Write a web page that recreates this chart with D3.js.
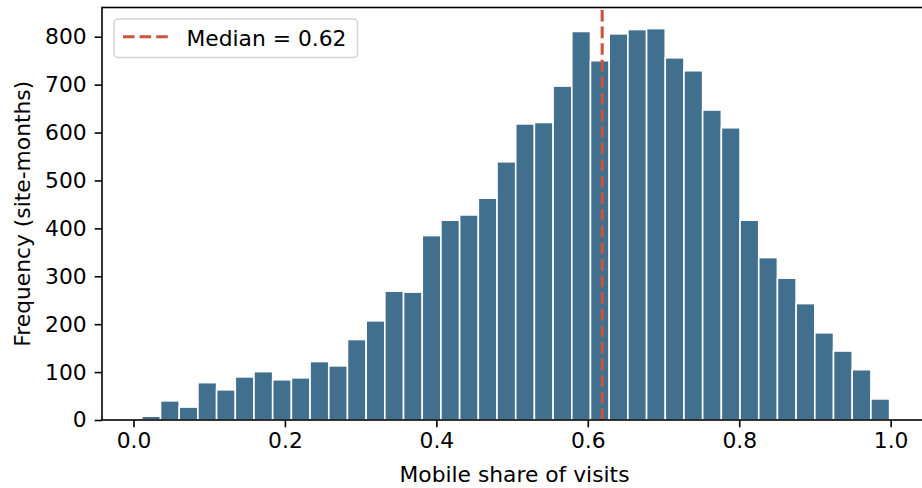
<!DOCTYPE html>
<html>
<head>
<meta charset="utf-8">
<script src="https://cdn.jsdelivr.net/npm/d3@7"></script>
<style>
    body { margin: 0; background: #fff; }
    svg { display: block; font-family: "DejaVu Sans", sans-serif; }
</style>
</head>
<body>
<svg></svg>
<script>
// histogram counts, 40 equal bins between binLo and binHi
const binLo = 0.011;
const binHi = 0.9986;
const counts = [8, 40, 27, 78, 63, 90, 101, 84, 88, 122,
    113, 168, 207, 269, 267, 385, 417, 428, 463, 539,
    618, 621, 697, 811, 750, 806, 815, 817, 756, 729,
    647, 610, 417, 339, 296, 243, 182, 144, 105, 44];
const median = 0.619;
const medianLabel = 'Median = 0.62';
const xTicks = [0, 0.2, 0.4, 0.6, 0.8, 1.0];
const yTicks = [0, 100, 200, 300, 400, 500, 600, 700, 800];
const xLabel = 'Mobile share of visits';
const yLabel = 'Frequency (site-months)';

const size = {w: 922, h: 488};
const plot = {l: 102, r: 927, t: 7.5, b: 420};
const fontSize = 21.8;
const barColor = '#41708f';
const lineColor = '#c8553d';

const svg = d3.select('svg')
    .attr('width', size.w)
    .attr('height', size.h);

const x = d3.scaleLinear().domain([-0.0416, 1.048]).range([plot.l, plot.r]);
const y = d3.scaleLinear().domain([0, 861]).range([plot.b, plot.t]);

const binW = (binHi - binLo) / counts.length;
const bins = counts.map((c, i) => ({x0: binLo + i * binW, x1: binLo + (i + 1) * binW, n: c}));

//bars
svg.append('g')
    .selectAll('rect')
    .data(bins)
    .enter()
    .append('rect')
    .attr('x', d => x(d.x0))
    .attr('y', d => y(d.n))
    .attr('width', d => x(d.x1) - x(d.x0))
    .attr('height', d => y(0) - y(d.n))
    .attr('fill', barColor)
    .attr('stroke', '#fff')
    .attr('stroke-width', 1.6);

//median line, dashes start at the bottom
svg.append('line')
    .attr('x1', x(median)).attr('x2', x(median))
    .attr('y1', plot.b).attr('y2', plot.t)
    .attr('stroke', lineColor)
    .attr('stroke-width', 3.1)
    .attr('stroke-dasharray', '11.6,5');

//axes
const xAxis = svg.append('g')
    .attr('transform', `translate(0,${plot.b})`)
    .call(d3.axisBottom(x).tickValues(xTicks).tickFormat(d3.format('.1f')).tickSize(7.3).tickPadding(5));
const yAxis = svg.append('g')
    .attr('transform', `translate(${plot.l},0)`)
    .call(d3.axisLeft(y).tickValues(yTicks).tickSize(7.3).tickPadding(8));

[xAxis, yAxis].forEach(g => {
    g.select('.domain').remove();
    g.selectAll('line').attr('stroke', '#000').attr('stroke-width', 1.6);
    g.selectAll('text')
        .attr('fill', '#000')
        .style('font-family', '"DejaVu Sans", sans-serif')
        .style('font-size', fontSize + 'px');
});

//frame
svg.append('rect')
    .attr('x', plot.l).attr('y', plot.t)
    .attr('width', plot.r - plot.l).attr('height', plot.b - plot.t)
    .attr('fill', 'none')
    .attr('stroke', '#000')
    .attr('stroke-width', 1.6);

//labels
svg.append('text')
    .attr('x', (plot.l + plot.r) / 2)
    .attr('y', 482)
    .attr('text-anchor', 'middle')
    .style('font-size', fontSize + 'px')
    .text(xLabel);

svg.append('text')
    .attr('transform', `translate(30,${(plot.t + plot.b) / 2}) rotate(-90)`)
    .attr('text-anchor', 'middle')
    .style('font-size', fontSize + 'px')
    .text(yLabel);

//legend
const lg = svg.append('g');
lg.append('rect')
    .attr('x', 114).attr('y', 19)
    .attr('width', 243.5).attr('height', 38.5)
    .attr('rx', 4)
    .attr('fill', '#fff')
    .attr('fill-opacity', 0.8)
    .attr('stroke', '#d4d4d4')
    .attr('stroke-width', 1.5);
lg.append('line')
    .attr('x1', 123).attr('x2', 168.5)
    .attr('y1', 36.7).attr('y2', 36.7)
    .attr('stroke', lineColor)
    .attr('stroke-width', 3.1)
    .attr('stroke-dasharray', '11.6,5');
lg.append('text')
    .attr('x', 186.5)
    .attr('y', 45.5)
    .style('font-size', fontSize + 'px')
    .text(medianLabel);
</script>
</body>
</html>
